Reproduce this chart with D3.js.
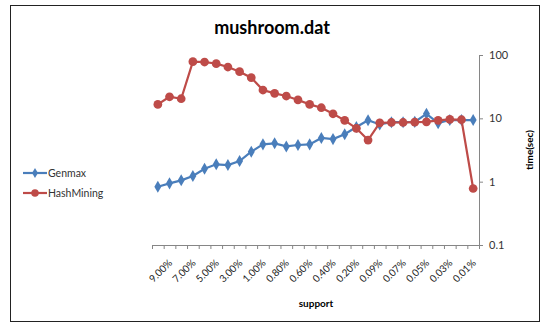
<!DOCTYPE html>
<html>
<head>
<meta charset="utf-8">
<script src="https://cdn.jsdelivr.net/npm/d3@7"></script>
<style>
  body { margin: 0; background: #fff; }
  svg { display: block; font-family: Lato, "Open Sans", sans-serif; }
</style>
</head>
<body>
<svg id="Chart" width="544" height="326"></svg>
<script>
// support levels (x categories), first one has no label
var supports = ["10.00%", "9.00%", "8.00%", "7.00%", "6.00%", "5.00%", "4.00%", "3.00%", "2.00%", "1.00%",
  "0.90%", "0.80%", "0.70%", "0.60%", "0.50%", "0.40%", "0.30%", "0.20%", "0.10%",
  "0.09%", "0.08%", "0.07%", "0.06%", "0.05%", "0.04%", "0.03%", "0.02%", "0.01%"];
var shownLabels = ["9.00%", "7.00%", "5.00%", "3.00%", "1.00%", "0.80%", "0.60%", "0.40%", "0.20%",
  "0.09%", "0.07%", "0.05%", "0.03%", "0.01%"];
var genmax = [0.83, 0.94, 1.05, 1.23, 1.6, 1.88, 1.83, 2.12, 2.97, 3.88, 4.03, 3.6, 3.79, 3.88,
  4.9, 4.7, 5.6, 7.3, 9.3, 8.0, 8.7, 8.7, 8.8, 11.8, 8.4, 9.4, 9.4, 9.4];
var hashMining = [16.6, 21.9, 20.4, 78.4, 77.5, 72.9, 64.6, 54.5, 43.8, 28.0, 24.8, 22.5, 19.5, 16.6,
  14.7, 11.8, 9.3, 6.95, 4.54, 8.5, 8.6, 8.6, 8.7, 8.8, 9.3, 9.6, 9.5, 0.78];
var yTicks = [0.1, 1, 10, 100];

var svg = d3.select("#Chart");
var margin = { top: 55, bottom: 81, left: 152, right: 65 };
var width = +svg.attr("width"), height = +svg.attr("height");

// outer frame
svg.append("rect")
  .attr("x", 10.5).attr("y", 5.5)
  .attr("width", 529).attr("height", 316)
  .attr("fill", "none").attr("stroke", "#222").attr("stroke-width", 1);

var x = d3.scaleBand()
  .domain(supports)
  .range([margin.left, width - margin.right]);

var y = d3.scaleLog()
  .domain([0.1, 100])
  .range([height - margin.bottom, margin.top]);

// title
svg.append("text")
  .attr("x", 272).attr("y", 34)
  .attr("text-anchor", "middle")
  .style("font-size", "18px").style("font-weight", "bold")
  .text("mushroom.dat");

// x axis line + ticks between categories
var xAxisY = height - margin.bottom;
svg.append("line")
  .attr("x1", margin.left).attr("x2", width - margin.right)
  .attr("y1", xAxisY + 0.5).attr("y2", xAxisY + 0.5)
  .attr("stroke", "#868686");
svg.append("g")
  .selectAll("line")
  .data(supports.concat(["end"]))
  .enter()
  .append("line")
  .attr("x1", d => (d === "end" ? x.range()[1] : x(d)) + 0.5)
  .attr("x2", d => (d === "end" ? x.range()[1] : x(d)) + 0.5)
  .attr("y1", xAxisY).attr("y2", xAxisY + 4)
  .attr("stroke", "#868686");

svg.append("g")
  .attr("transform", `translate(0,${xAxisY})`)
  .call(d3.axisBottom(x).tickValues(shownLabels).tickSize(0))
  .call(g => g.select(".domain").remove())
  .selectAll("text")
    .style("font-size", "10px")
    .style("font-family", "Lato, sans-serif")
    .attr("fill", "#222")
    .attr("text-anchor", "end")
    .attr("x", 0).attr("y", 0).attr("dy", "0.35em")
    .attr("transform", "translate(1,16) rotate(-45)");

// y axis on the right
var yAxisX = width - margin.right;
svg.append("g")
  .attr("transform", `translate(${yAxisX},0)`)
  .call(d3.axisRight(y).tickValues(yTicks).tickFormat(d => d).tickSize(4).tickSizeOuter(0))
  .call(g => g.select(".domain").attr("stroke", "#868686"))
  .call(g => g.selectAll(".tick line").attr("stroke", "#868686"))
  .selectAll("text")
    .style("font-size", "11px")
    .style("font-family", "Lato, sans-serif")
    .attr("fill", "#333")
    .attr("x", 10);

// axis titles
svg.append("text")
  .attr("transform", "translate(533,150) rotate(-90)")
  .attr("text-anchor", "middle")
  .style("font-size", "10px").style("font-weight", "bold")
  .text("time(sec)");

svg.append("text")
  .attr("x", 316).attr("y", 307)
  .attr("text-anchor", "middle")
  .style("font-size", "10px").style("font-weight", "bold")
  .text("support");

// series
var blue = "#4A7EBB", red = "#BE4B48";
var line = d3.line()
  .x((d, i) => x(supports[i]) + x.bandwidth() / 2)
  .y(d => y(d));

function drawSeries(values, color, shape) {
  svg.append("path")
    .datum(values)
    .attr("fill", "none")
    .attr("stroke", color)
    .attr("stroke-width", 2.2)
    .attr("d", line);
  svg.append("g")
    .selectAll("path")
    .data(values)
    .enter()
    .append("path")
    .attr("transform", (d, i) => `translate(${x(supports[i]) + x.bandwidth() / 2},${y(d)})`)
    .attr("d", d3.symbol().type(shape).size(shape === d3.symbolCircle ? 60 : 42))
    .attr("fill", color);
}
drawSeries(genmax, blue, d3.symbolDiamond);
drawSeries(hashMining, red, d3.symbolCircle);

// legend
var legend = [
  { name: "Genmax", color: blue, shape: d3.symbolDiamond, y: 173 },
  { name: "HashMining", color: red, shape: d3.symbolCircle, y: 193 }
];
var lg = svg.append("g").selectAll("g").data(legend).enter().append("g");
lg.append("line")
  .attr("x1", 23).attr("x2", 47)
  .attr("y1", d => d.y).attr("y2", d => d.y)
  .attr("stroke", d => d.color).attr("stroke-width", 2.2);
lg.append("path")
  .attr("transform", d => `translate(35,${d.y})`)
  .attr("d", d => d3.symbol().type(d.shape).size(d.shape === d3.symbolCircle ? 45 : 30)())
  .attr("fill", d => d.color);
lg.append("text")
  .attr("x", 48).attr("y", d => d.y).attr("dy", "0.35em")
  .style("font-size", "10.5px")
  .attr("fill", "#333")
  .text(d => d.name);
</script>
</body>
</html>
